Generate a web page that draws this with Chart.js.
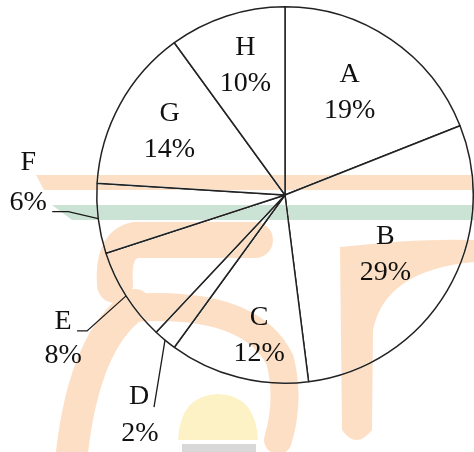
<!DOCTYPE html>
<html>
<head>
<meta charset="utf-8">
<script src="https://cdn.jsdelivr.net/npm/chart.js@4"></script>
<style>
  html, body { margin: 0; padding: 0; background: #ffffff; }
  #wrap { width: 474px; height: 452px; position: relative; overflow: hidden; }
</style>
</head>
<body>
<div id="wrap"><canvas id="c" width="474" height="452"></canvas></div>
<script>
// ---- data ----
const categories = ['A', 'B', 'C', 'D', 'E', 'F', 'G', 'H'];
const shares = [19, 29, 12, 2, 8, 6, 14, 10];
const percentLabels = shares.map(v => v + '%');

// label placement styles (inside: [radius fraction, angle shift deg]; outside: leader geometry)
const insideStyle = {
  A: [0.645, -2], B: [0.62, 0], C: [0.76, -4], G: [0.70, 0], H: [0.72, 1]
};
const outsideStyle = {
  F: { elbow: [-30, -7], tail: -16, name: [-24, -49], pct: [-24, -9] },
  E: { elbow: [-39, 35], tail: -10, name: [-14, -9], pct: [-14, 25] },
  D: { elbow: [-11, 67], tail: 0, name: [-15, -10], pct: [-14, 27] }
};

const FONT = '28px "Liberation Serif", "Times New Roman", serif';

const watermark = {
  id: 'watermark',
  afterDatasetsDraw(chart) {
    const ctx = chart.ctx;
    ctx.save();
    ctx.globalCompositeOperation = 'darken';
    const orange = '#fddfc6';
    // orange band
    ctx.fillStyle = orange;
    ctx.beginPath();
    ctx.moveTo(36, 175); ctx.lineTo(474, 175); ctx.lineTo(474, 190); ctx.lineTo(44, 190);
    ctx.closePath(); ctx.fill();
    // green band
    ctx.fillStyle = '#cbe3d4';
    ctx.beginPath();
    ctx.moveTo(52, 205); ctx.lineTo(474, 205); ctx.lineTo(474, 220); ctx.lineTo(72, 220);
    ctx.closePath(); ctx.fill();
    // left "S"-like stroke
    ctx.strokeStyle = orange;
    ctx.lineCap = 'round';
    ctx.lineWidth = 36;
    ctx.beginPath();
    ctx.moveTo(255, 240);
    ctx.lineTo(135, 240);
    ctx.quadraticCurveTo(112, 245, 115, 285);
    ctx.stroke();
    ctx.lineWidth = 32;
    ctx.beginPath();
    ctx.moveTo(135, 305);
    ctx.quadraticCurveTo(85, 340, 72, 452);
    ctx.stroke();
    ctx.lineWidth = 28;
    ctx.beginPath();
    ctx.moveTo(130, 308);
    ctx.quadraticCurveTo(250, 300, 280, 360);
    ctx.quadraticCurveTo(290, 400, 278, 440);
    ctx.stroke();
    // right "r"-like shape
    ctx.fillStyle = orange;
    ctx.beginPath();
    ctx.moveTo(340, 247);
    ctx.quadraticCurveTo(420, 238, 474, 240);
    ctx.lineTo(474, 262);
    ctx.quadraticCurveTo(385, 270, 373, 330);
    ctx.lineTo(372, 430);
    ctx.quadraticCurveTo(356, 450, 342, 430);
    ctx.closePath();
    ctx.fill();
    // helmet
    ctx.fillStyle = '#fdf2c6';
    ctx.beginPath();
    ctx.moveTo(178, 440);
    ctx.quadraticCurveTo(180, 395, 218, 394);
    ctx.quadraticCurveTo(256, 395, 258, 440);
    ctx.closePath();
    ctx.fill();
    ctx.fillStyle = '#d8d8d8';
    ctx.fillRect(182, 444, 74, 8);
    ctx.restore();
  }
};

const pieLabels = {
  id: 'pieLabels',
  afterDraw(chart) {
    const ctx = chart.ctx;
    const meta = chart.getDatasetMeta(0);
    ctx.save();
    ctx.font = FONT;
    ctx.fillStyle = '#111111';
    ctx.textAlign = 'center';
    ctx.textBaseline = 'middle';
    meta.data.forEach((arc, i) => {
      const p = arc.getProps(['x', 'y', 'startAngle', 'endAngle', 'outerRadius'], true);
      const cat = categories[i];
      const mid = (p.startAngle + p.endAngle) / 2;
      if (insideStyle[cat]) {
        const [f, shift] = insideStyle[cat];
        const a = mid + shift * Math.PI / 180;
        const lx = p.x + Math.cos(a) * p.outerRadius * f;
        const ly = p.y + Math.sin(a) * p.outerRadius * f;
        ctx.fillText(cat, lx, ly - 18);
        ctx.fillText(percentLabels[i], lx, ly + 18);
      } else if (outsideStyle[cat]) {
        const s = outsideStyle[cat];
        const sx = p.x + Math.cos(mid) * p.outerRadius;
        const sy = p.y + Math.sin(mid) * p.outerRadius;
        const ex = sx + s.elbow[0], ey = sy + s.elbow[1];
        const tx = ex + s.tail;
        ctx.strokeStyle = '#1a1a1a';
        ctx.lineWidth = 1.3;
        ctx.beginPath();
        ctx.moveTo(sx, sy);
        ctx.lineTo(ex, ey);
        if (s.tail) ctx.lineTo(tx, ey);
        ctx.stroke();
        ctx.fillText(cat, tx + s.name[0], ey + s.name[1]);
        ctx.fillText(percentLabels[i], tx + s.pct[0], ey + s.pct[1]);
      }
    });
    ctx.restore();
  }
};

new Chart(document.getElementById('c'), {
  type: 'pie',
  data: {
    labels: categories,
    datasets: [{
      data: shares,
      backgroundColor: '#ffffff',
      borderColor: '#222222',
      borderWidth: 1.5
    }]
  },
  options: {
    responsive: false,
    animation: false,
    layout: { padding: { left: 96, right: 0, top: 6, bottom: 68 } },
    plugins: {
      legend: { display: false },
      tooltip: { enabled: false }
    }
  },
  plugins: [watermark, pieLabels]
});
</script>
</body>
</html>
